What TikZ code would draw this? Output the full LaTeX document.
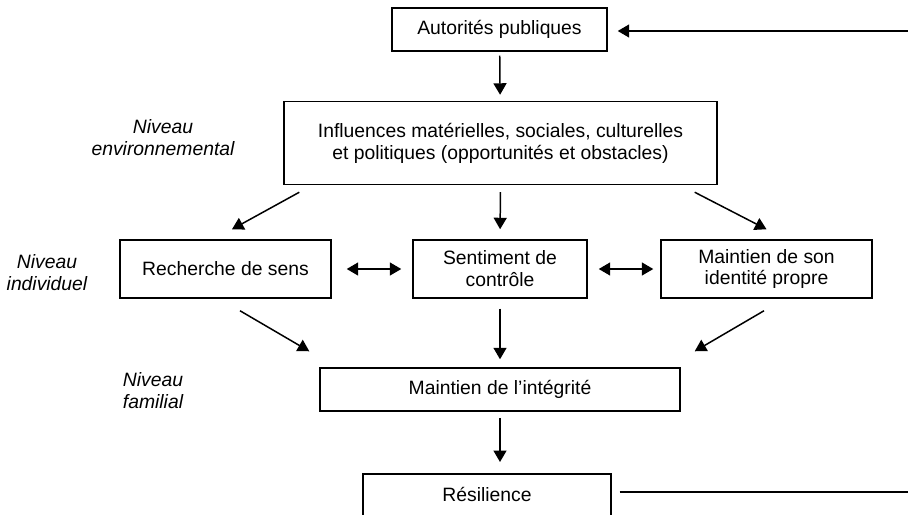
\documentclass[tikz,border=0pt]{standalone}
\usepackage{fontspec}
\setmainfont{Liberation Sans}
\usepackage{tikz}
\usetikzlibrary{arrows.meta}

\begin{document}
\begin{tikzpicture}[x=0.02cm, y=-0.02cm,
box/.style={rectangle, draw=black, line width=0.85pt, align=center, inner sep=0pt, font=\fontsize{11}{12.5}\selectfont},
level/.style={align=center, font=\fontsize{11}{12.5}\selectfont\itshape},
link/.style={line width=0.85pt, -{Triangle[length=2.3mm, width=2.6mm]}},
both/.style={line width=0.85pt, {Triangle[length=2.3mm, width=2.6mm]}-{Triangle[length=2.3mm, width=2.6mm]}}
]
\useasboundingbox (0,0) rectangle (908,514);

\node[box, minimum width=4.30cm, minimum height=0.86cm] (autorites) at (499.5,29.5) {Autorités publiques};
\node[box, minimum width=8.66cm, minimum height=1.66cm] (influences) at (500.5,143) {Influences matérielles, sociales, culturelles\\et politiques (opportunités et obstacles)};

\node[box, minimum width=4.22cm, minimum height=1.16cm] (recherche) at (225.5,269) {Recherche de sens};
\node[box, minimum width=3.48cm, minimum height=1.16cm] (sentiment) at (500,269) {Sentiment de\\contrôle};
\node[box, minimum width=4.22cm, minimum height=1.16cm] (identite) at (766.5,269) {Maintien de son\\identité propre};

\node[box, minimum width=7.20cm, minimum height=0.86cm] (integrite) at (500,389.5) {Maintien de l’intégrité};
\node[box, minimum width=4.96cm, minimum height=0.84cm, anchor=north] (resilience) at (487,473) {Résilience};

\node[level] (envlabel) at (163,138) {Niveau\\environnemental};
\node[level] (indlabel) at (47,273) {Niveau\\individuel};
\node[level] (famlabel) at (153,391) {Niveau\\familial};

\coordinate (topright) at (908,31);
\coordinate (botright) at (908,492);

\draw[link, shorten <=0.08cm, shorten >=0.12cm] (autorites) -- (influences);
\draw[link] ([xshift=0.32cm,yshift=-0.14cm]influences.south west) -- ([xshift=0.13cm,yshift=0.2cm]recherche.north);
\draw[link, shorten <=0.14cm, shorten >=0.2cm] (influences.south) -- (sentiment.north);
\draw[link] ([xshift=-0.46cm,yshift=-0.14cm]influences.south east) -- ([yshift=0.2cm]identite.north);

\draw[both, shorten <=0.3cm, shorten >=0.22cm] (recherche.east) -- (sentiment.west);
\draw[both, shorten <=0.22cm, shorten >=0.14cm] (sentiment.east) -- (identite.west);

\draw[link] ([xshift=0.29cm,yshift=-0.24cm]recherche.south) -- ([xshift=-0.2cm,yshift=0.32cm]integrite.north west);
\draw[link, shorten <=0.2cm, shorten >=0.16cm] (sentiment.south) -- (integrite.north);
\draw[link] ([xshift=-0.05cm,yshift=-0.24cm]identite.south) -- ([xshift=0.28cm,yshift=0.32cm]integrite.north east);

\draw[link, shorten <=0.12cm, shorten >=0.22cm] (integrite.south) -- (integrite.south |- resilience.north);

\draw[link, shorten >=0.2cm] (topright) -- (autorites.east |- topright);
\draw[line width=0.85pt] ([xshift=0.16cm]resilience.east |- botright) -- (botright);

\end{tikzpicture}
\end{document}
